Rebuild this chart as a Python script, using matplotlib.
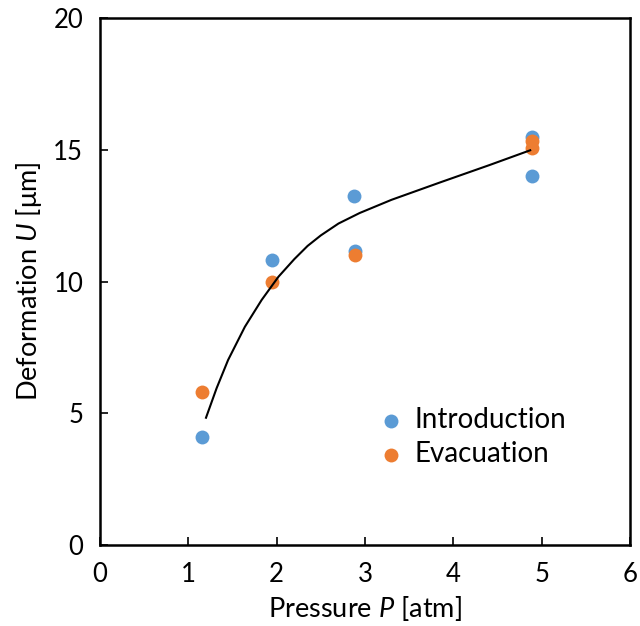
import matplotlib
matplotlib.use("Agg")
import matplotlib.pyplot as plt

plt.rcParams['font.family'] = ['Lato', 'DejaVu Sans']
plt.rcParams['mathtext.fontset'] = 'custom'
plt.rcParams['mathtext.it'] = 'Lato:italic'
plt.rcParams['mathtext.rm'] = 'Lato'

intro_p = [1.15, 1.95, 2.87, 2.89, 4.89, 4.89]
intro_u = [4.1, 10.8, 13.25, 11.15, 15.5, 14.0]
evac_p = [1.15, 1.95, 2.89, 4.89, 4.89]
evac_u = [5.8, 10.0, 11.0, 15.35, 15.05]
curve_p = [1.20, 1.32, 1.45, 1.64, 1.83, 2.02, 2.20, 2.35, 2.50, 2.70, 2.94, 3.30, 3.85, 4.41, 4.87]
curve_u = [4.83, 5.95, 7.02, 8.28, 9.30, 10.18, 10.85, 11.35, 11.75, 12.2, 12.6, 13.1, 13.76, 14.42, 14.98]

x_ticks = [0, 1, 2, 3, 4, 5, 6]
y_ticks = [0, 5, 10, 15, 20]

fig = plt.figure(figsize=(6.4, 6.26), dpi=100)
ax = fig.add_axes([100/640, 1-545/626, 530/640, 527/626])

blue = '#5B9BD5'
orange = '#ED7D31'
ax.scatter(intro_p, intro_u, s=100, color=blue, label='Introduction', zorder=3, linewidths=0)
ax.scatter(evac_p, evac_u, s=100, color=orange, label='Evacuation', zorder=3, linewidths=0)
ax.plot(curve_p, curve_u, color='black', lw=1.5, zorder=4)

ax.set_xlim(0, 6)
ax.set_ylim(0, 20)
ax.set_xticks(x_ticks)
ax.set_yticks(y_ticks)
ax.tick_params(direction='in', length=6, width=1.2, labelsize=18.5, color='black')
ax.tick_params(axis='x', pad=12)
ax.tick_params(axis='y', pad=12)
for sp in ax.spines.values():
    sp.set_linewidth(1.8)
    sp.set_color('black')

ax.set_xlabel('Pressure $P$ [atm]', fontsize=19.5, labelpad=5)
ax.set_ylabel('Deformation $U$ [μm]', fontsize=19.5, labelpad=7)

leg = ax.legend(loc='center left', bbox_to_anchor=(0.481, 0.205), frameon=False,
                fontsize=20, handletextpad=0.25, labelspacing=0.3, borderpad=0.2,
                handlelength=1.2, scatterpoints=1)

fig.savefig('out.png', dpi=100)
